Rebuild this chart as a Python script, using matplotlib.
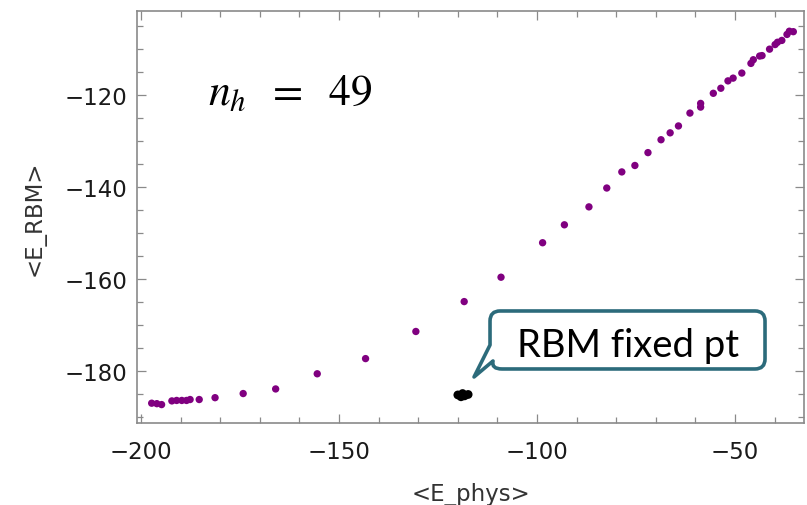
import matplotlib
matplotlib.use("Agg")
import matplotlib.pyplot as plt
from matplotlib.path import Path
from matplotlib.patches import PathPatch
from matplotlib.ticker import MultipleLocator

plt.rcParams["font.family"] = ["DejaVu Sans"]
plt.rcParams["mathtext.fontset"] = "stix"

# Energy expectation values along the training trajectory
E_phys = [-197.3, -196.0, -194.8, -192.2, -191.0, -189.7, -188.5, -187.6, -185.3,
          -181.3, -174.2, -166.0, -155.5, -143.3, -130.6, -118.4, -109.1, -98.6,
          -93.1, -86.9, -82.4, -78.6, -75.3, -72.0, -68.7, -66.4, -64.3, -61.4,
          -58.7, -58.7, -55.5, -53.6, -51.8, -50.5, -48.3, -46.0, -45.4, -43.8,
          -43.2, -41.3, -39.9, -39.3, -38.2, -36.9, -36.3, -35.3]
E_RBM = [-187.0, -187.1, -187.3, -186.5, -186.4, -186.4, -186.4, -186.2, -186.2,
         -185.8, -184.9, -183.9, -180.6, -177.3, -171.4, -164.9, -159.6, -152.1,
         -148.2, -144.3, -140.2, -136.7, -135.3, -132.5, -129.7, -128.2, -126.7, -123.9,
         -121.8, -122.6, -119.6, -118.5, -116.9, -116.3, -115.2, -113.1, -112.3, -111.5,
         -111.4, -110.0, -109.0, -108.5, -108.1, -106.8, -106.1, -106.2]

# RBM fixed point samples
fixed_phys = [-120.0, -119.2, -118.3, -117.4, -118.8]
fixed_rbm = [-185.2, -185.6, -185.4, -185.1, -184.9]

n_hidden = 49
xlabel = "<E_phys>"
ylabel = "<E_RBM>"
callout_text = "RBM fixed pt"

fig = plt.figure(figsize=(8.07, 5.06), dpi=100)
ax = fig.add_axes([0.1698, 0.1621, 0.8265, 0.8142])

ax.scatter(E_phys, E_RBM, s=28, color="#800080", edgecolors="none", zorder=3)
ax.scatter(fixed_phys, fixed_rbm, s=40, color="black", edgecolors="none", zorder=3)

ax.set_xlim(-201, -32.6)
ax.set_ylim(-191.3, -101.7)

frame_col = "#8a8a8a"
for sp in ax.spines.values():
    sp.set_color(frame_col)
    sp.set_linewidth(1.2)

ax.xaxis.set_major_locator(MultipleLocator(50))
ax.xaxis.set_minor_locator(MultipleLocator(10))
ax.yaxis.set_major_locator(MultipleLocator(20))
ax.yaxis.set_minor_locator(MultipleLocator(5))
ax.tick_params(which="both", direction="in", top=True, right=True, color=frame_col,
               width=0.9, labelcolor="#1a1a1a", labelsize=16.5)
ax.tick_params(which="major", length=6.5)
ax.tick_params(which="minor", length=4)
ax.tick_params(axis="x", which="major", pad=12)
ax.tick_params(axis="y", which="major", pad=7)

ax.set_xlabel(xlabel, fontsize=16.5, color="#333333")
ax.set_ylabel(ylabel, fontsize=16.5, color="#333333")
ax.xaxis.set_label_coords(0.5, (424 - 495) / 412)
ax.xaxis.label.set_va("center")
ax.yaxis.set_label_coords((34 - 137) / 667, 0.5)
ax.yaxis.label.set_va("center")

ax.text((208 - 137) / 667, (424 - 105) / 412, r"$n_h\;\ =\;\ %d$" % n_hidden,
        transform=ax.transAxes, fontsize=31.5, ha="left", va="baseline")


# Speech-bubble callout, laid out in pixel units of the axes box
def to_axes(px, py):
    return ((px - 137) / 667, (424 - py) / 412)


L, R, T, B, r = 490, 765, 312, 370, 10
pts = [
    ((L + r, T), Path.MOVETO),
    ((R - r, T), Path.LINETO),
    ((R, T), Path.CURVE3), ((R, T + r), Path.CURVE3),
    ((R, B - r), Path.LINETO),
    ((R, B), Path.CURVE3), ((R - r, B), Path.CURVE3),
    ((L + 12, B), Path.LINETO),
    ((L + 1, B), Path.CURVE3), ((L + 3, B - 8), Path.CURVE3),
    ((474, 378), Path.LINETO),
    ((L, B - 24), Path.LINETO),
    ((L, T + r), Path.LINETO),
    ((L, T), Path.CURVE3), ((L + r, T), Path.CURVE3),
    ((L + r, T), Path.CLOSEPOLY),
]
verts = [to_axes(*p) for p, _ in pts]
codes = [c for _, c in pts]
bubble = PathPatch(Path(verts, codes), transform=ax.transAxes, facecolor="white",
                   edgecolor="#2c6b7b", linewidth=2.6, joinstyle="round",
                   zorder=5, clip_on=False)
ax.add_patch(bubble)
tx, ty = to_axes((L + R) / 2 + 1, 357)
ax.text(tx, ty, callout_text, transform=ax.transAxes, fontsize=27.5, family="Lato",
        ha="center", va="baseline", color="black", zorder=6)

fig.savefig("out.png", dpi=100)
